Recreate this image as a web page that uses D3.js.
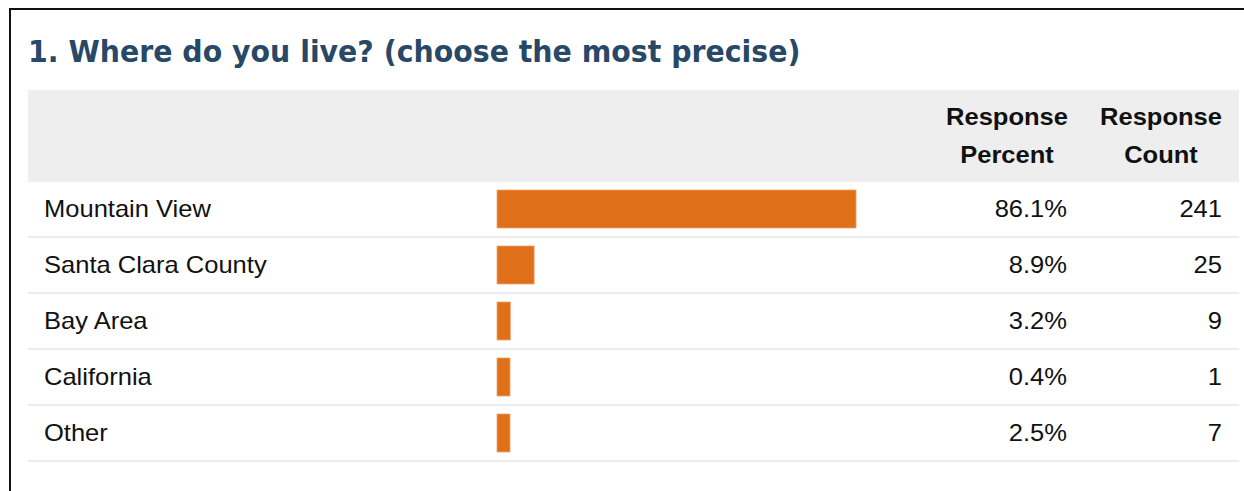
<!DOCTYPE html>
<html>
<head>
<meta charset="utf-8">
<script src="https://cdn.jsdelivr.net/npm/d3@7"></script>
<style>
  body { margin: 0; background: #fff; }
</style>
</head>
<body>
<script>
var width = 1244;
var height = 491;

var title = "1. Where do you live? (choose the most precise)";
var categories = ["Mountain View", "Santa Clara County", "Bay Area", "California", "Other"];
var percents = [86.1, 8.9, 3.2, 0.4, 2.5];
var counts = [241, 25, 9, 1, 7];
var headPercent = ["Response", "Percent"];
var headCount = ["Response", "Count"];

var svg = d3.select("body")
        .append("svg")
        .attr("width", width)
        .attr("height", height);

// cornice nera (sopra e a sinistra)
svg.append("line")
    .attr("x1", 9).attr("x2", width)
    .attr("y1", 9).attr("y2", 9)
    .attr("stroke", "#111").attr("stroke-width", 2);
svg.append("line")
    .attr("x1", 10).attr("x2", 10)
    .attr("y1", 8).attr("y2", height)
    .attr("stroke", "#111").attr("stroke-width", 2);

// titolo
svg.append("text")
    .attr("transform", "translate(28,62) scale(0.925,1)")
    .attr("font-family", "DejaVu Sans, Verdana, sans-serif")
    .attr("font-weight", "bold")
    .attr("font-size", 30.7)
    .attr("fill", "#274867")
    .text(title);

var left = 28, right = 1239;
var sx = 1.11;  // il testo della tabella e' un po' largo

// intestazione grigia
svg.append("rect")
    .attr("x", left).attr("y", 90)
    .attr("width", right - left).attr("height", 92)
    .attr("fill", "#eeeeee");

var fontTab = "Liberation Sans, Arial, Helvetica, sans-serif";

function intestazione(righe, cx) {
    righe.forEach(function(t, k) {
        svg.append("text")
            .attr("transform", "translate(" + cx + "," + (125 + k * 38) + ") scale(" + sx + ",1)")
            .attr("text-anchor", "middle")
            .attr("font-family", fontTab)
            .attr("font-weight", "bold")
            .attr("font-size", 23)
            .attr("fill", "#111")
            .text(t);
    });
}
intestazione(headPercent, 1007);
intestazione(headCount, 1161);

// righe
var y = d3.scaleBand()
    .domain(categories)
    .range([182, 182 + 56 * categories.length]);

var x = d3.scaleLinear()
    .domain([0, 100])
    .range([0, 417]);

var barX = 497;

var rows = svg.selectAll("g.riga")
    .data(categories)
    .enter()
    .append("g")
    .attr("class", "riga")
    .attr("transform", function(d) { return "translate(0," + y(d) + ")"; });

rows.append("line")
    .attr("x1", left).attr("x2", right)
    .attr("y1", y.bandwidth() - 1).attr("y2", y.bandwidth() - 1)
    .attr("stroke", "#ececec").attr("stroke-width", 2);

function cella(sel, xpos, anchor, testo) {
    sel.append("text")
        .attr("transform", "translate(" + xpos + ",35) scale(" + sx + ",1)")
        .attr("text-anchor", anchor)
        .attr("font-family", fontTab)
        .attr("font-size", 23)
        .attr("fill", "#111")
        .text(testo);
}

cella(rows, 44, "start", function(d) { return d; });

rows.append("rect")
    .attr("x", barX)
    .attr("y", 8)
    .attr("width", function(d, i) { return Math.max(x(percents[i]), 13); })
    .attr("height", 38)
    .attr("fill", "#df6f18")
    .attr("stroke", "#eea56a")
    .attr("stroke-width", 0.8);

cella(rows, 1067, "end", function(d, i) { return percents[i].toFixed(1) + "%"; });
cella(rows, 1222, "end", function(d, i) { return counts[i]; });
</script>
</body>
</html>
